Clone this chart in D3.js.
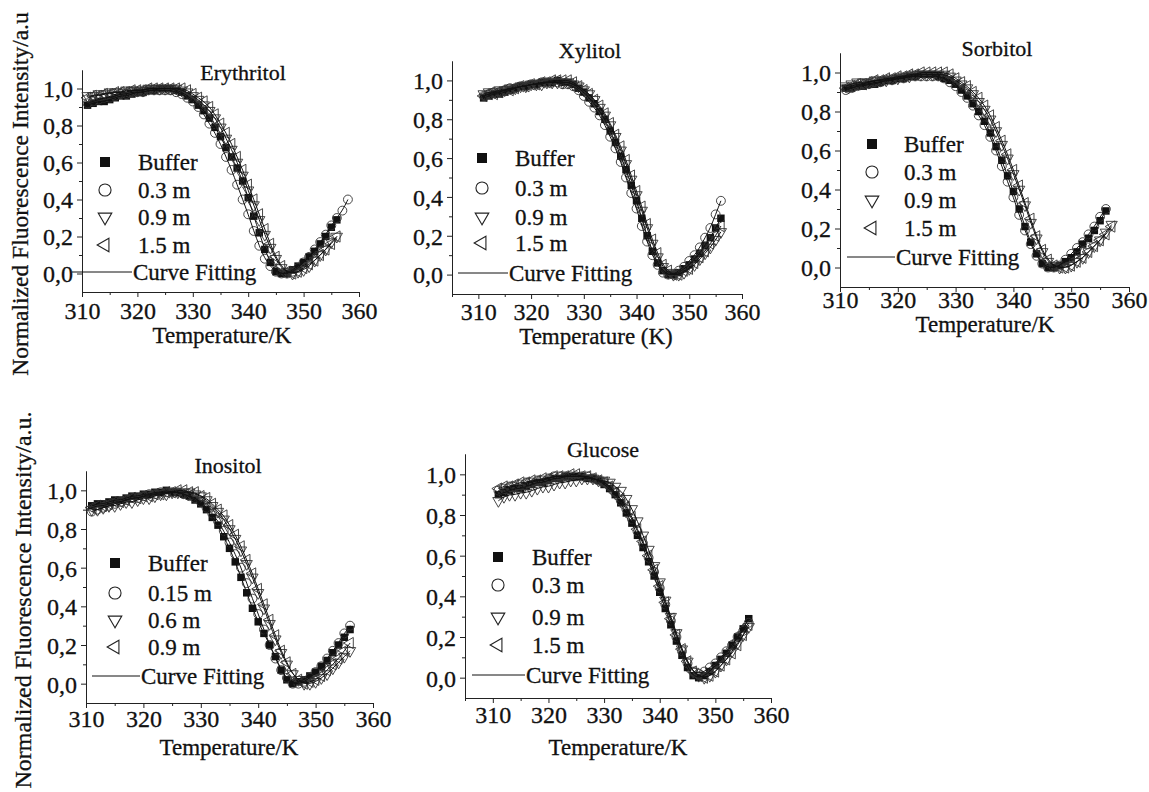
<!DOCTYPE html>
<html>
<head>
<meta charset="utf-8">
<script src="https://cdn.jsdelivr.net/npm/d3@7"></script>
<style>
body { margin: 0; background: #fff; }
svg text { font-family: 'Liberation Serif', 'Times New Roman', serif; }
</style>
</head>
<body>
<svg id="canvas" width="1149" height="792"></svg>
<script>
// temperatures (K), one reading per kelvin
let temps = [311, 312, 313, 314, 315, 316, 317, 318, 319, 320,
    321, 322, 323, 324, 325, 326, 327, 328, 329, 330,
    331, 332, 333, 334, 335, 336, 337, 338, 339, 340,
    341, 342, 343, 344, 345, 346, 347, 348, 349, 350,
    351, 352, 353, 354, 355, 356, 357, 358];

let erythritolBuffer = [0.91,0.92,0.93,0.93,0.94,0.95,0.96,0.96,0.97,0.98,
    0.98,0.99,0.99,1.00,1.00,1.00,0.99,0.98,0.96,0.94,
    0.91,0.88,0.84,0.79,0.74,0.68,0.63,0.57,0.50,0.41,
    0.31,0.22,0.13,0.06,0.01,0.00,0.00,0.02,0.04,0.06,
    0.09,0.12,0.16,0.20,0.25,0.29];
let erythritol03 = [0.92,0.93,0.94,0.95,0.95,0.96,0.97,0.97,0.98,0.98,
    0.98,0.99,0.99,0.99,0.99,0.99,0.98,0.97,0.95,0.93,
    0.90,0.86,0.81,0.76,0.70,0.63,0.56,0.48,0.40,0.32,
    0.23,0.15,0.08,0.04,0.01,0.00,0.00,0.01,0.03,0.06,
    0.09,0.13,0.17,0.21,0.26,0.30,0.34,0.40];
let erythritol09 = [0.96,0.96,0.97,0.97,0.98,0.98,0.98,0.99,0.99,0.99,
    0.99,1.00,1.00,1.00,1.00,1.00,1.00,0.99,0.98,0.96,
    0.94,0.91,0.88,0.84,0.79,0.73,0.67,0.60,0.53,0.45,
    0.37,0.29,0.21,0.14,0.08,0.03,0.01,0.00,0.01,0.02,
    0.04,0.07,0.10,0.13,0.17,0.20];
let erythritol15 = [0.95,0.96,0.96,0.97,0.97,0.98,0.98,0.98,0.99,0.99,
    0.99,1.00,1.00,1.00,1.00,1.00,1.00,1.00,0.99,0.97,
    0.95,0.93,0.90,0.86,0.81,0.76,0.70,0.63,0.56,0.48,
    0.40,0.32,0.24,0.16,0.09,0.04,0.01,0.00,0.01,0.03,
    0.05,0.07,0.10,0.13,0.16,0.20];

let xylitolBuffer = [0.91,0.92,0.93,0.93,0.94,0.95,0.96,0.97,0.97,0.98,
    0.98,0.99,0.99,0.99,1.00,0.99,0.99,0.98,0.96,0.94,
    0.91,0.88,0.84,0.80,0.74,0.68,0.61,0.54,0.46,0.38,
    0.29,0.20,0.12,0.06,0.02,0.00,0.00,0.01,0.03,0.05,
    0.08,0.11,0.15,0.19,0.24,0.29];
let xylitol03 = [0.92,0.93,0.94,0.94,0.95,0.96,0.96,0.97,0.97,0.98,
    0.98,0.99,0.99,0.99,0.99,0.98,0.98,0.97,0.95,0.92,
    0.89,0.86,0.82,0.77,0.71,0.65,0.58,0.50,0.42,0.34,
    0.25,0.17,0.10,0.05,0.01,0.00,0.00,0.02,0.04,0.07,
    0.10,0.14,0.19,0.24,0.31,0.38];
let xylitol09 = [0.93,0.94,0.94,0.95,0.95,0.96,0.96,0.97,0.97,0.98,
    0.98,0.98,0.99,0.99,0.99,0.99,0.99,0.98,0.97,0.95,
    0.93,0.90,0.86,0.82,0.77,0.71,0.64,0.57,0.49,0.41,
    0.33,0.24,0.16,0.09,0.04,0.01,0.00,0.00,0.01,0.03,
    0.05,0.08,0.11,0.14,0.18,0.22];
let xylitol15 = [0.92,0.93,0.93,0.94,0.95,0.95,0.96,0.97,0.97,0.98,
    0.98,0.99,0.99,1.00,1.00,1.00,1.00,0.99,0.97,0.95,
    0.93,0.90,0.87,0.83,0.78,0.72,0.66,0.59,0.51,0.43,
    0.35,0.26,0.18,0.11,0.05,0.02,0.00,0.00,0.02,0.03,
    0.06,0.09,0.12,0.16,0.20,0.25];

let sorbitolBuffer = [0.92,0.92,0.93,0.93,0.94,0.94,0.95,0.96,0.96,0.97,
    0.97,0.98,0.98,0.99,0.99,0.99,0.98,0.97,0.96,0.94,
    0.91,0.88,0.84,0.80,0.75,0.69,0.62,0.55,0.47,0.39,
    0.30,0.21,0.13,0.07,0.02,0.00,0.00,0.01,0.03,0.05,
    0.08,0.12,0.15,0.19,0.24,0.29];
let sorbitol03 = [0.91,0.92,0.93,0.94,0.94,0.95,0.95,0.96,0.96,0.97,
    0.97,0.98,0.98,0.98,0.98,0.98,0.98,0.97,0.95,0.93,
    0.90,0.87,0.83,0.78,0.73,0.67,0.60,0.52,0.44,0.36,
    0.27,0.19,0.12,0.06,0.02,0.00,0.00,0.01,0.04,0.07,
    0.10,0.13,0.17,0.21,0.26,0.30];
let sorbitol09 = [0.93,0.94,0.95,0.95,0.95,0.96,0.96,0.96,0.97,0.97,
    0.98,0.98,0.99,0.99,0.99,0.99,0.99,0.99,0.98,0.96,
    0.94,0.92,0.89,0.85,0.81,0.76,0.70,0.63,0.56,0.48,
    0.40,0.32,0.23,0.15,0.08,0.03,0.01,0.00,0.00,0.01,
    0.03,0.05,0.08,0.11,0.14,0.18,0.22];
let sorbitol15 = [0.92,0.93,0.94,0.94,0.95,0.96,0.96,0.97,0.97,0.98,
    0.98,0.99,0.99,1.00,1.00,1.00,1.00,1.00,0.99,0.97,
    0.95,0.93,0.90,0.87,0.83,0.78,0.72,0.65,0.58,0.50,
    0.42,0.33,0.25,0.16,0.09,0.04,0.01,0.00,0.00,0.01,
    0.03,0.05,0.08,0.11,0.14,0.17,0.21];

let inositolBuffer = [0.92,0.93,0.93,0.94,0.95,0.95,0.96,0.97,0.97,0.98,
    0.98,0.99,0.99,1.00,0.99,0.99,0.98,0.97,0.95,0.93,
    0.90,0.86,0.82,0.76,0.70,0.63,0.55,0.47,0.39,0.32,
    0.26,0.20,0.14,0.07,0.02,0.00,0.01,0.02,0.04,0.06,
    0.09,0.12,0.16,0.20,0.24,0.28];
let inositol015 = [0.89,0.90,0.91,0.92,0.93,0.94,0.95,0.96,0.96,0.97,
    0.98,0.98,0.99,0.99,0.99,0.99,0.98,0.97,0.96,0.94,
    0.91,0.88,0.84,0.79,0.73,0.67,0.60,0.52,0.44,0.36,
    0.28,0.20,0.13,0.07,0.03,0.00,0.00,0.01,0.03,0.06,
    0.09,0.13,0.17,0.21,0.26,0.30];
let inositol06 = [0.90,0.90,0.91,0.92,0.92,0.93,0.94,0.94,0.95,0.96,
    0.96,0.97,0.98,0.98,0.99,0.99,0.99,0.99,0.98,0.97,
    0.95,0.92,0.89,0.85,0.80,0.75,0.69,0.62,0.55,0.47,
    0.39,0.31,0.23,0.16,0.10,0.05,0.02,0.00,0.00,0.01,
    0.03,0.05,0.08,0.11,0.14,0.17];
let inositol09 = [0.91,0.92,0.92,0.93,0.94,0.94,0.95,0.96,0.96,0.97,
    0.97,0.98,0.98,0.99,0.99,1.00,1.00,0.99,0.99,0.97,
    0.96,0.93,0.90,0.87,0.82,0.77,0.71,0.64,0.57,0.49,
    0.41,0.33,0.25,0.17,0.11,0.05,0.02,0.00,0.01,0.02,
    0.04,0.07,0.10,0.13,0.17,0.21];

let glucoseBuffer = [0.90,0.91,0.92,0.93,0.93,0.94,0.95,0.96,0.96,0.97,
    0.98,0.98,0.99,0.99,0.99,0.99,0.98,0.98,0.97,0.95,
    0.93,0.90,0.86,0.81,0.76,0.70,0.64,0.57,0.50,0.42,
    0.34,0.26,0.18,0.11,0.05,0.01,0.00,0.01,0.03,0.06,
    0.09,0.12,0.16,0.20,0.24,0.29];
let glucose03 = [0.92,0.93,0.94,0.94,0.95,0.96,0.96,0.97,0.97,0.98,
    0.99,0.99,0.99,0.99,0.99,0.99,0.99,0.98,0.97,0.96,
    0.94,0.91,0.87,0.83,0.78,0.72,0.66,0.59,0.52,0.44,
    0.36,0.28,0.20,0.13,0.07,0.03,0.02,0.03,0.05,0.07,
    0.10,0.13,0.16,0.20,0.23,0.27];
let glucose09 = [0.87,0.89,0.90,0.90,0.91,0.91,0.92,0.93,0.94,0.94,
    0.95,0.96,0.96,0.97,0.97,0.98,0.98,0.98,0.97,0.97,
    0.96,0.94,0.92,0.88,0.83,0.77,0.70,0.63,0.55,0.47,
    0.38,0.30,0.22,0.14,0.08,0.03,0.01,0.00,0.01,0.03,
    0.06,0.09,0.13,0.17,0.21,0.25];
let glucose15 = [0.93,0.94,0.94,0.95,0.96,0.96,0.97,0.97,0.98,0.98,
    0.99,0.99,0.99,1.00,1.00,0.99,0.99,0.98,0.97,0.96,
    0.94,0.91,0.88,0.84,0.79,0.73,0.67,0.60,0.53,0.45,
    0.37,0.29,0.21,0.14,0.08,0.03,0.01,0.00,0.01,0.03,
    0.06,0.09,0.12,0.16,0.21,0.26];

let titles = ['Erythritol', 'Xylitol', 'Sorbitol', 'Inositol', 'Glucose'];
let seriesLabels = ['Buffer', '0.3 m', '0.9 m', '1.5 m'];
let inositolLabels = ['Buffer', '0.15 m', '0.6 m', '0.9 m'];
let fitLabel = 'Curve Fitting';
let xTitles = ['Temperature/K', 'Temperature (K)', 'Temperature/K', 'Temperature/K', 'Temperature/K'];
let yTitles = ['Normalized Fluorescence Intensity/a.u', 'Normalized Fluorescence Intensity/a.u.'];
let xTicks = [310, 320, 330, 340, 350, 360];
let yTicks = [0, 0.2, 0.4, 0.6, 0.8, 1.0];

// panel placement in the page
let panels = [
    {data: [erythritolBuffer, erythritol03, erythritol09, erythritol15], labels: seriesLabels,
        xMin: 310, left: 82, right: 359, top: 70, bottom: 292,
        titleX: 243, titleY: 80, legX: 105, legTextX: 138, legY: [162, 190, 217, 245, 272], lineX: [72, 132],
        tickY: 27, xTitleX: 222, xTitleY: 51},
    {data: [xylitolBuffer, xylitol03, xylitol09, xylitol15], labels: seriesLabels,
        xMin: 305, left: 452, right: 742, top: 61, bottom: 294,
        titleX: 590, titleY: 58, legX: 482, legTextX: 515, legY: [158, 188, 217, 243, 273], lineX: [458, 508],
        tickY: 26, xTitleX: 596, xTitleY: 50},
    {data: [sorbitolBuffer, sorbitol03, sorbitol09, sorbitol15], labels: seriesLabels,
        xMin: 310, left: 840, right: 1129, top: 53, bottom: 287,
        titleX: 997, titleY: 56, legX: 872, legTextX: 904, legY: [144, 172, 200, 228, 257], lineX: [847, 895],
        tickY: 21, xTitleX: 985, xTitleY: 45},
    {data: [inositolBuffer, inositol015, inositol06, inositol09], labels: inositolLabels,
        xMin: 310, left: 86, right: 373, top: 471, bottom: 703,
        titleX: 228, titleY: 473, legX: 115, legTextX: 148, legY: [563, 593, 620, 647, 676], lineX: [92, 140],
        tickY: 24, xTitleX: 229, xTitleY: 52},
    {data: [glucoseBuffer, glucose03, glucose09, glucose15], labels: seriesLabels,
        xMin: 305, left: 465, right: 771, top: 454, bottom: 698,
        titleX: 603, titleY: 457, legX: 498, legTextX: 532, legY: [557, 585, 617, 645, 675], lineX: [472, 525],
        tickY: 25, xTitleX: 618, xTitleY: 57}
];

let canvas = d3.select('#canvas');
let ink = '#111';
let serif = "'Liberation Serif', 'Times New Roman', serif";

// square, circle, down triangle, left triangle
let symbolPath = (i, size) => {
    let types = [d3.symbolSquare, d3.symbolCircle, d3.symbolTriangle, d3.symbolTriangle];
    return d3.symbol().type(types[i]).size(size)();
};
let symbolRotate = [0, 0, 180, -90];
let pointSize = [56, 62, 55, 55];
let keySize = [100, 115, 80, 80];

// the scanned figure has slightly heavy type, so give text a hairline stroke
let addText = (g, x, y, size, str) => {
    return g.append('text')
        .attr('x', x)
        .attr('y', y)
        .attr('font-family', serif)
        .attr('font-size', size)
        .attr('fill', ink)
        .attr('stroke', ink)
        .attr('stroke-width', 0.3)
        .text(str);
};

let drawPanel = (p, k) => {
    let g = canvas.append('g');
    let x = d3.scaleLinear().domain([p.xMin, 360]).range([p.left, p.right]);
    let y = d3.scaleLinear().domain([-0.1, 1.1]).range([p.bottom, p.top]);

    let fmt = (d) => d3.format('.1f')(d).replace('.', ',');

    // minor ticks
    let minorX = d3.range(p.xMin === 305 ? 305 : 315, 360, 10);
    g.append('g')
        .attr('transform', 'translate(0,' + p.bottom + ')')
        .call(d3.axisBottom(x).tickValues(minorX).tickSize(3).tickSizeOuter(0).tickFormat(''));
    g.append('g')
        .attr('transform', 'translate(' + p.left + ',0)')
        .call(d3.axisLeft(y).tickValues([0.1, 0.3, 0.5, 0.7, 0.9]).tickSize(3).tickSizeOuter(0).tickFormat(''));

    let xAxis = g.append('g')
        .attr('transform', 'translate(0,' + p.bottom + ')')
        .call(d3.axisBottom(x).tickValues(xTicks).tickSize(5).tickSizeOuter(0));
    xAxis.selectAll('text').attr('y', p.tickY).attr('dy', 0);

    let yAxis = g.append('g')
        .attr('transform', 'translate(' + p.left + ',0)')
        .call(d3.axisLeft(y).tickValues(yTicks).tickSize(5).tickSizeOuter(0).tickFormat(fmt));
    yAxis.selectAll('text').attr('x', -9).attr('dy', '0.35em');

    g.selectAll('.domain').attr('stroke', '#222');
    g.selectAll('.tick line').attr('stroke', '#222');
    g.selectAll('.tick text')
        .attr('font-family', serif)
        .attr('font-size', 24)
        .attr('fill', ink)
        .attr('stroke', ink)
        .attr('stroke-width', 0.3);

    // points
    p.data.forEach((values, i) => {
        g.append('g').selectAll('path')
            .data(values)
            .enter()
            .append('path')
            .attr('d', symbolPath(i, pointSize[i]))
            .attr('transform', (v, j) => 'translate(' + x(temps[j]) + ',' + y(v) + ') rotate(' + symbolRotate[i] + ')')
            .attr('fill', i === 0 ? ink : 'none')
            .attr('stroke', i === 0 ? 'none' : '#333')
            .attr('stroke-width', 0.9);
    });

    // fitted curves
    let line = d3.line()
        .x((v, j) => x(temps[j]))
        .y((v) => y(v))
        .curve(d3.curveBasis);
    p.data.forEach((values) => {
        g.append('path')
            .attr('d', line(values))
            .attr('fill', 'none')
            .attr('stroke', ink)
            .attr('stroke-width', 1);
    });

    addText(g, p.titleX, p.titleY, 22, titles[k]).attr('text-anchor', 'middle');
    addText(g, p.xTitleX, p.bottom + p.xTitleY, 23, xTitles[k]).attr('text-anchor', 'middle');

    // legend
    p.labels.forEach((label, i) => {
        g.append('path')
            .attr('d', symbolPath(i, keySize[i]))
            .attr('transform', 'translate(' + p.legX + ',' + p.legY[i] + ') rotate(' + symbolRotate[i] + ')')
            .attr('fill', i === 0 ? ink : 'none')
            .attr('stroke', i === 0 ? 'none' : '#222')
            .attr('stroke-width', 1.1);
        addText(g, p.legTextX, p.legY[i], 23, label).attr('dy', '0.35em');
    });
    g.append('line')
        .attr('x1', p.lineX[0])
        .attr('x2', p.lineX[1])
        .attr('y1', p.legY[4])
        .attr('y2', p.legY[4])
        .attr('stroke', ink)
        .attr('stroke-width', 1);
    addText(g, p.lineX[1] + 1, p.legY[4], 23, fitLabel).attr('dy', '0.35em');
};

panels.forEach((p, k) => drawPanel(p, k));

// shared y titles
addText(canvas, 0, 0, 23.5, yTitles[0])
    .attr('transform', 'translate(28,194) rotate(-90)')
    .attr('text-anchor', 'middle');
addText(canvas, 0, 0, 24, yTitles[1])
    .attr('transform', 'translate(31,600) rotate(-90)')
    .attr('text-anchor', 'middle');
</script>
</body>
</html>
